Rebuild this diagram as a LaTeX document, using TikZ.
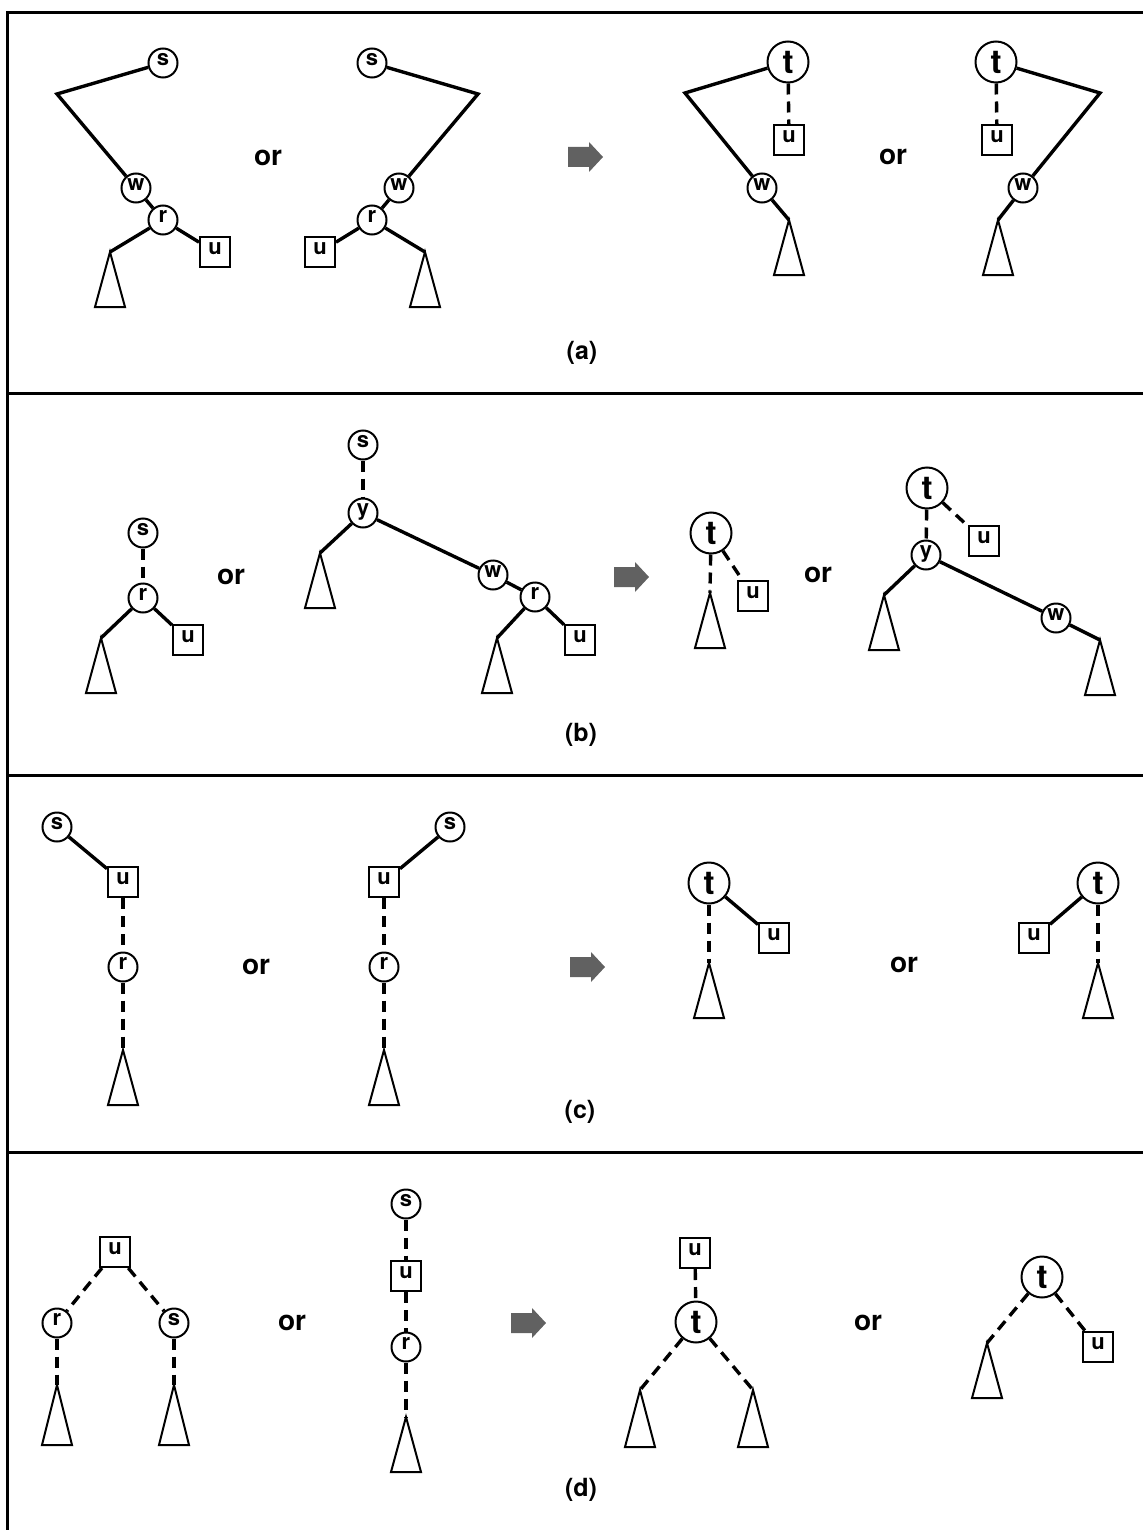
\documentclass[tikz,border=0pt]{standalone}
\usepackage{fontspec}
\setmainfont{TeX Gyre Heros}

% subtree triangle hanging from an apex coordinate
\newcommand\subtree[2][55]{\draw[tri] (#2) -- ++(-15,#1) -- ++(30,0) -- cycle;}
% shaded block arrow centred on a coordinate
\newcommand\blockarrow[1]{\path[bigarrow, shift={(#1)}] (-17,-10) -- (4,-10) -- (4,-15) -- (18,0) -- (4,15) -- (4,10) -- (-17,10) -- cycle;}

\begin{document}
\begin{tikzpicture}[x=1pt, y=-1pt,
  sn/.style={circle, draw, line width=2pt, minimum size=29pt, inner sep=0pt,
             font=\bfseries\fontsize{22}{22}\selectfont, text height=1ex, text depth=0pt},
  bn/.style={circle, draw, line width=2pt, minimum size=41pt, inner sep=0pt,
             font=\bfseries\fontsize{33}{33}\selectfont},
  sq/.style={rectangle, draw, line width=2pt, minimum size=30pt, inner sep=0pt,
             font=\bfseries\fontsize{22}{22}\selectfont, text height=1ex, text depth=0pt},
  edge/.style={line width=3.4pt},
  dedge/.style={line width=3.4pt, dash pattern=on 11pt off 7pt},
  tri/.style={line width=2pt},
  frame/.style={line width=3pt},
  word/.style={font=\bfseries\fontsize{28}{28}\selectfont, inner sep=0pt},
  caption/.style={font=\bfseries\fontsize{25}{25}\selectfont, inner sep=0pt},
  bigarrow/.style={fill=black!62}
]
\useasboundingbox (0,0) rectangle (1143,1530);

% ---------- frame and panel separators ----------
\draw[frame] (7,1530) -- (7,13) -- (1143,13);
\draw[frame] (7,393) -- (1143,393);
\draw[frame] (7,775) -- (1143,775);
\draw[frame] (7,1152) -- (1143,1152);

% ================= panel (a) =================
\node[sn] (a1s) at (163,63) {s};
\coordinate (a1k) at (57,94);
\node[sn] (a1w) at (136,188) {w};
\node[sn] (a1r) at (163,220) {r};
\node[sq] (a1u) at (215,252) {u};
\coordinate (a1T) at (110,252);
\draw[edge] (a1s) -- (a1k) -- (a1w);
\draw[edge] (a1w) -- (a1r);
\draw[edge] (a1r) -- (a1u);
\draw[edge] (a1r) -- (a1T);
\subtree{a1T}

\node[word] (aor1) at (268,158) {or};

\node[sn] (a2s) at (372,63) {s};
\coordinate (a2k) at (478,94);
\node[sn] (a2w) at (399,188) {w};
\node[sn] (a2r) at (372,220) {r};
\node[sq] (a2u) at (320,252) {u};
\coordinate (a2T) at (425,252);
\draw[edge] (a2s) -- (a2k) -- (a2w);
\draw[edge] (a2w) -- (a2r);
\draw[edge] (a2r) -- (a2u);
\draw[edge] (a2r) -- (a2T);
\subtree{a2T}

\coordinate (aarr) at (585,157);
\blockarrow{aarr}

\node[bn] (a3t) at (788,62) {t};
\coordinate (a3k) at (685,93);
\node[sn] (a3w) at (762,188) {w};
\node[sq] (a3u) at (789,140) {u};
\coordinate (a3T) at (789,220);
\draw[edge] (a3t) -- (a3k) -- (a3w);
\draw[dedge] (a3t) -- (a3u);
\draw[edge] (a3w) -- (a3T);
\subtree{a3T}

\node[word] (aor2) at (893,157) {or};

\node[bn] (a4t) at (996,62) {t};
\coordinate (a4k) at (1100,93);
\node[sn] (a4w) at (1023,188) {w};
\node[sq] (a4u) at (997,140) {u};
\coordinate (a4T) at (998,220);
\draw[edge] (a4t) -- (a4k) -- (a4w);
\draw[dedge] (a4t) -- (a4u);
\draw[edge] (a4w) -- (a4T);
\subtree{a4T}

\node[caption] (capa) at (582,353) {(a)};

% ================= panel (b) =================
\node[sn] (b1s) at (143,533) {s};
\node[sn] (b1r) at (143,598) {r};
\node[sq] (b1u) at (188,640) {u};
\coordinate (b1T) at (101,638);
\draw[dedge] (b1s) -- (b1r);
\draw[edge] (b1r) -- (b1u);
\draw[edge] (b1r) -- (b1T);
\subtree{b1T}

\node[word] (bor1) at (231,577) {or};

\node[sn] (b2s) at (363,445) {s};
\node[sn] (b2y) at (363,513) {y};
\coordinate (b2L) at (320,553);
\node[sn] (b2w) at (493,575) {w};
\node[sn] (b2r) at (535,597) {r};
\node[sq] (b2u) at (580,640) {u};
\coordinate (b2R) at (497,638);
\draw[dedge] (b2s) -- (b2y);
\draw[edge] (b2y) -- (b2L);
\draw[edge] (b2y) -- (b2w);
\draw[edge] (b2w) -- (b2r);
\draw[edge] (b2r) -- (b2u);
\draw[edge] (b2r) -- (b2R);
\subtree{b2L}
\subtree{b2R}

\coordinate (barr) at (631,577);
\blockarrow{barr}

\node[bn] (b3t) at (711,533) {t};
\node[sq] (b3u) at (753,596) {u};
\coordinate (b3T) at (710,593);
\draw[dedge] (b3t) -- (b3u);
\draw[dedge] (b3t) -- (b3T);
\subtree{b3T}

\node[word] (bor2) at (818,575) {or};

\node[bn] (b4t) at (927,488) {t};
\node[sn] (b4y) at (926,555) {y};
\node[sq] (b4u) at (984,541) {u};
\coordinate (b4L) at (884,595);
\node[sn] (b4w) at (1056,618) {w};
\coordinate (b4R) at (1100,640);
\draw[dedge] (b4t) -- (b4y);
\draw[dedge] (b4t) -- (b4u);
\draw[edge] (b4y) -- (b4L);
\draw[edge] (b4y) -- (b4w);
\draw[edge] (b4w) -- (b4R);
\subtree{b4L}
\subtree{b4R}

\node[caption] (capb) at (581,735) {(b)};

% ================= panel (c) =================
\node[sn] (c1s) at (57,827) {s};
\node[sq] (c1u) at (123,882) {u};
\node[sn] (c1r) at (123,967) {r};
\coordinate (c1T) at (123,1050);
\draw[edge] (c1s) -- (c1u);
\draw[dedge] (c1u) -- (c1r);
\draw[dedge] (c1r) -- (c1T);
\subtree{c1T}

\node[word] (cor1) at (256,967) {or};

\node[sn] (c2s) at (450,827) {s};
\node[sq] (c2u) at (384,882) {u};
\node[sn] (c2r) at (384,967) {r};
\coordinate (c2T) at (384,1050);
\draw[edge] (c2s) -- (c2u);
\draw[dedge] (c2u) -- (c2r);
\draw[dedge] (c2r) -- (c2T);
\subtree{c2T}

\coordinate (carr) at (587,967);
\blockarrow{carr}

\node[bn] (c3t) at (709,883) {t};
\node[sq] (c3u) at (774,938) {u};
\coordinate (c3T) at (709,963);
\draw[edge] (c3t) -- (c3u);
\draw[dedge] (c3t) -- (c3T);
\subtree{c3T}

\node[word] (cor2) at (904,965) {or};

\node[bn] (c4t) at (1098,883) {t};
\node[sq] (c4u) at (1034,938) {u};
\coordinate (c4T) at (1098,963);
\draw[edge] (c4t) -- (c4u);
\draw[dedge] (c4t) -- (c4T);
\subtree{c4T}

\node[caption] (capc) at (580,1112) {(c)};

% ================= panel (d) =================
\node[sq] (d1u) at (115,1252) {u};
\node[sn] (d1r) at (57,1323) {r};
\node[sn] (d1s) at (174,1323) {s};
\coordinate (d1L) at (57,1385);
\coordinate (d1R) at (174,1385);
\draw[dedge] (d1u) -- (d1r);
\draw[dedge] (d1u) -- (d1s);
\draw[dedge] (d1r) -- (d1L);
\draw[dedge] (d1s) -- (d1R);
\subtree[60]{d1L}
\subtree[60]{d1R}

\node[word] (dor1) at (292,1323) {or};

\node[sn] (d2s) at (406,1204) {s};
\node[sq] (d2u) at (406,1276) {u};
\node[sn] (d2r) at (406,1347) {r};
\coordinate (d2T) at (406,1417);
\draw[dedge] (d2s) -- (d2u);
\draw[dedge] (d2u) -- (d2r);
\draw[dedge] (d2r) -- (d2T);
\subtree{d2T}

\coordinate (darr) at (528,1323);
\blockarrow{darr}

\node[sq] (d3u) at (695,1253) {u};
\node[bn] (d3t) at (696,1322) {t};
\coordinate (d3L) at (640,1390);
\coordinate (d3R) at (753,1390);
\draw[dedge] (d3u) -- (d3t);
\draw[dedge] (d3t) -- (d3L);
\draw[dedge] (d3t) -- (d3R);
\subtree[57]{d3L}
\subtree[57]{d3R}

\node[word] (dor2) at (868,1323) {or};

\node[bn] (d4t) at (1042,1277) {t};
\node[sq] (d4u) at (1098,1347) {u};
\coordinate (d4L) at (987,1343);
\draw[dedge] (d4t) -- (d4L);
\draw[dedge] (d4t) -- (d4u);
\subtree{d4L}

\node[caption] (capd) at (581,1490) {(d)};
\end{tikzpicture}
\end{document}
